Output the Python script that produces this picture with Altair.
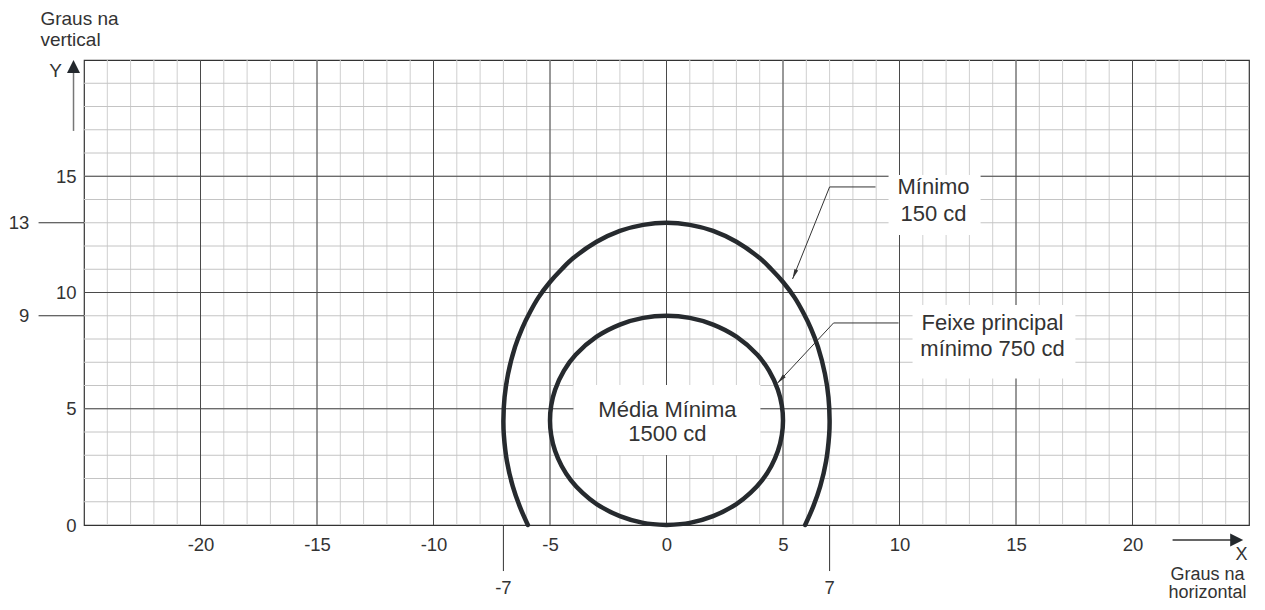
import altair as alt
import pandas as pd

# ---------------- data ----------------
outer_x = [-5.95, -6.3, -6.6, -6.85, -6.98, -7.0, -6.95, -6.8, -6.5, -6.2, -5.85, -5.5, -5.0, -4.5,
           -4.0, -3.0, -2.0, -1.0, 0.0, 1.0, 2.0, 3.0, 4.0, 4.5,
           5.0, 5.5, 5.85, 6.2, 6.5, 6.8, 6.95, 7.0, 6.98, 6.85, 6.6, 6.3, 5.95]
outer_y = [0.0, 0.8, 1.67, 2.75, 3.86, 4.5, 5.5, 6.5, 7.66, 8.45, 9.17, 9.78, 10.45, 11.0,
           11.48, 12.18, 12.65, 12.91, 13.0, 12.91, 12.65, 12.18, 11.48, 11.0,
           10.45, 9.78, 9.17, 8.45, 7.66, 6.5, 5.5, 4.5, 3.86, 2.75, 1.67, 0.8, 0.0]

inner_x = [0.0, -1.0, -2.0, -3.0, -3.6, -4.1, -4.5, -4.78, -4.95, -5.0, -4.95, -4.78, -4.4, -3.9,
           -3.0, -2.0, -1.0, 0.0, 1.0, 2.0, 3.0, 3.9, 4.4, 4.78, 4.95, 5.0, 4.95, 4.78, 4.5,
           4.1, 3.6, 3.0, 2.0, 1.0, 0.0]
inner_y = [0.0, 0.09, 0.38, 0.9, 1.38, 1.92, 2.54, 3.18, 3.87, 4.5, 5.13, 5.82, 6.64, 7.32,
           8.1, 8.62, 8.91, 9.0, 8.91, 8.62, 8.1, 7.32, 6.64, 5.82, 5.13, 4.5, 3.87, 3.18, 2.54,
           1.92, 1.38, 0.9, 0.38, 0.09, 0.0]

x_tick_values = [-20, -15, -10, -5, 0, 5, 10, 15, 20]
y_tick_values = [0, 5, 10, 15]
x_special = [-7, 7]
y_special = [13, 9]
grid_x_minor = list(range(-24, 25))
grid_y_minor = list(range(1, 20))
grid_x_major = [-20, -15, -10, -5, 0, 5, 10, 15, 20]
grid_y_major = [5, 10, 15]

ann_texts = ["Mínimo", "150 cd", "Feixe principal", "mínimo 750 cd", "Média Mínima", "1500 cd"]

FONT = "Liberation Sans"
TXT = "#333333"
INK = "#262a2e"
LABEL_EXPR = "datum.value < 0 ? '-' + abs(datum.value) : '' + datum.value"

# ---------------- scales ----------------
xs = alt.Scale(domain=[-25, 25], nice=False, zero=False)
ys = alt.Scale(domain=[0, 20], nice=False, zero=False)
xaxis = alt.Axis(values=x_tick_values, grid=False, ticks=False, domain=False, title=None,
                 labelFont=FONT, labelFontSize=18.5, labelColor=TXT, labelPadding=10,
                 labelFlush=False, labelOverlap=False, labelExpr=LABEL_EXPR)
yaxis = alt.Axis(values=y_tick_values, grid=False, ticks=False, domain=False, title=None,
                 labelFont=FONT, labelFontSize=18.5, labelColor=TXT, labelPadding=8,
                 labelFlush=False, labelOverlap=False, labelExpr=LABEL_EXPR)


def X(f="x"):
    return alt.X(f"{f}:Q", scale=xs, axis=xaxis)


def Y(f="y"):
    return alt.Y(f"{f}:Q", scale=ys, axis=yaxis)


# ---------------- grid ----------------
g_xmin = alt.Chart(pd.DataFrame({"x": grid_x_minor})).mark_rule(color="#cfcfcf", strokeWidth=1).encode(x=X())
g_ymin = alt.Chart(pd.DataFrame({"y": grid_y_minor})).mark_rule(color="#c4c4c4", strokeWidth=1).encode(y=Y())
g_xmaj = alt.Chart(pd.DataFrame({"x": grid_x_major})).mark_rule(color="#4a4a4a", strokeWidth=1).encode(x=X())
g_ymaj = alt.Chart(pd.DataFrame({"y": grid_y_major})).mark_rule(color="#4a4a4a", strokeWidth=1).encode(y=Y())

# ---------------- white boxes behind annotations ----------------
boxes = pd.DataFrame({
    "x": [9.53, 10.56, -3.99],
    "x2": [13.48, 17.55, 4.03],
    "y": [15.05, 9.46, 6.02],
    "y2": [12.47, 6.3, 3.01],
})
box_layer = alt.Chart(boxes).mark_rect(color="white").encode(
    x=X(), x2="x2:Q", y=Y(), y2="y2:Q")

# ---------------- curves ----------------
curves = pd.concat([
    pd.DataFrame({"x": outer_x, "y": outer_y, "s": "Mínimo 150 cd", "o": range(len(outer_x))}),
    pd.DataFrame({"x": inner_x, "y": inner_y, "s": "Feixe principal", "o": range(len(inner_x))}),
])
curve_layer = alt.Chart(curves).mark_line(color=INK, strokeWidth=4.5, interpolate="catmull-rom",
                                          strokeCap="round").encode(
    x=X(), y=Y(), detail="s:N", order="o:Q")

# ---------------- leader lines ----------------
leaders = pd.DataFrame({
    "x": [8.97, 7.0, 5.41, 9.96, 7.17, 4.76],
    "y": [14.54, 14.54, 10.58, 8.69, 8.69, 6.1],
    "s": ["a", "a", "a", "b", "b", "b"],
    "o": [0, 1, 2, 0, 1, 2],
})
leader_layer = alt.Chart(leaders).mark_line(color="#333333", strokeWidth=1).encode(
    x=X(), y=Y(), detail="s:N", order="o:Q")

small_head = "M0,0L-0.4,2L0.4,2Z"
head_a = alt.Chart(pd.DataFrame({"x": [5.41], "y": [10.58]})).mark_point(
    shape=small_head, filled=True, size=100, angle=202, color="#333333", opacity=1, strokeWidth=0
).encode(x=X(), y=Y())
head_b = alt.Chart(pd.DataFrame({"x": [4.76], "y": [6.1]})).mark_point(
    shape=small_head, filled=True, size=100, angle=223, color="#333333", opacity=1, strokeWidth=0
).encode(x=X(), y=Y())

# ---------------- annotation texts ----------------
ann = pd.DataFrame({
    "x": [11.46, 11.46, 13.99, 13.99, 0.04, 0.04],
    "y": [14.54, 13.38, 8.7, 7.56, 4.95, 3.91],
    "t": ann_texts,
})
ann_layer = alt.Chart(ann).mark_text(font=FONT, fontSize=22, color=TXT, align="center",
                                     baseline="middle").encode(x=X(), y=Y(), text="t:N")

# ---------------- special ticks 13 / 9 and -7 / 7 ----------------
ysp = pd.DataFrame({"y": y_special, "x": [-26.95] * 2, "x2": [-25] * 2,
                    "lx": [-27.35] * 2, "t": [str(v) for v in y_special]})
ysp_rule = alt.Chart(ysp).mark_rule(color="#333333", strokeWidth=1).encode(x=X(), x2="x2:Q", y=Y())
ysp_text = alt.Chart(ysp).mark_text(font=FONT, fontSize=18.5, color=TXT, align="right",
                                    baseline="middle").encode(x=X("lx"), y=Y(), text="t:N")

xsp = pd.DataFrame({"x": x_special, "y": [0] * 2, "y2": [-1.98] * 2,
                    "ly": [-2.7] * 2, "t": [str(v) for v in x_special]})
xsp_rule = alt.Chart(xsp).mark_rule(color="#333333", strokeWidth=1).encode(x=X(), y=Y(), y2="y2:Q")
xsp_text = alt.Chart(xsp).mark_text(font=FONT, fontSize=18.5, color=TXT, align="center",
                                    baseline="middle").encode(x=X(), y=Y("ly"), text="t:N")

# ---------------- axis arrows and titles ----------------
big_head = "M0,0L-0.5,1L0.5,1Z"
yarrow = alt.Chart(pd.DataFrame({"x": [-25.45], "y": [16.95], "y2": [19.5]})).mark_rule(
    color="#777777", strokeWidth=1.5).encode(x=X(), y=Y(), y2="y2:Q")
yhead = alt.Chart(pd.DataFrame({"x": [-25.45], "y": [20.0]})).mark_point(
    shape=big_head, filled=True, size=676, angle=0, color="#23282d", opacity=1, strokeWidth=0
).encode(x=X(), y=Y())
xarrow = alt.Chart(pd.DataFrame({"x": [21.72], "x2": [24.4], "y": [-0.645]})).mark_rule(
    color="#333333", strokeWidth=1.5).encode(x=X(), x2="x2:Q", y=Y())
xhead = alt.Chart(pd.DataFrame({"x": [24.75], "y": [-0.645]})).mark_point(
    shape=big_head, filled=True, size=676, angle=90, color="#23282d", opacity=1, strokeWidth=0
).encode(x=X(), y=Y())

ytitle = alt.Chart(pd.DataFrame({"x": [-26.22], "y": [19.53], "t": ["Y"]})).mark_text(
    font=FONT, fontSize=19, color=TXT, align="center", baseline="middle").encode(x=X(), y=Y(), text="t:N")
xtitle = alt.Chart(pd.DataFrame({"x": [24.68], "y": [-1.31], "t": ["X"]})).mark_text(
    font=FONT, fontSize=18, color=TXT, align="center", baseline="middle").encode(x=X(), y=Y(), text="t:N")
vtitle = alt.Chart(pd.DataFrame({"x": [-26.87, -26.87], "y": [21.78, 20.86],
                                 "t": ["Graus na", "vertical"]})).mark_text(
    font=FONT, fontSize=19, color=TXT, align="left", baseline="middle").encode(x=X(), y=Y(), text="t:N")
htitle = alt.Chart(pd.DataFrame({"x": [23.22, 23.22], "y": [-2.13, -2.92],
                                 "t": ["Graus na", "horizontal"]})).mark_text(
    font=FONT, fontSize=18, color=TXT, align="center", baseline="middle").encode(x=X(), y=Y(), text="t:N")

chart = alt.layer(
    g_xmin, g_ymin, g_xmaj, g_ymaj, box_layer, curve_layer, leader_layer, head_a, head_b,
    ann_layer, ysp_rule, ysp_text, xsp_rule, xsp_text, yarrow, yhead, xarrow, xhead,
    ytitle, xtitle, vtitle, htitle,
).properties(
    width=1165, height=465,
    autosize=alt.AutoSizeParams(type="none"),
    padding={"left": 76, "top": 52, "right": 8, "bottom": 77},
    background="white",
).configure_view(stroke="#333333", strokeWidth=1.2)

chart.save("out.html", embed_options={"renderer": "svg", "actions": False})
